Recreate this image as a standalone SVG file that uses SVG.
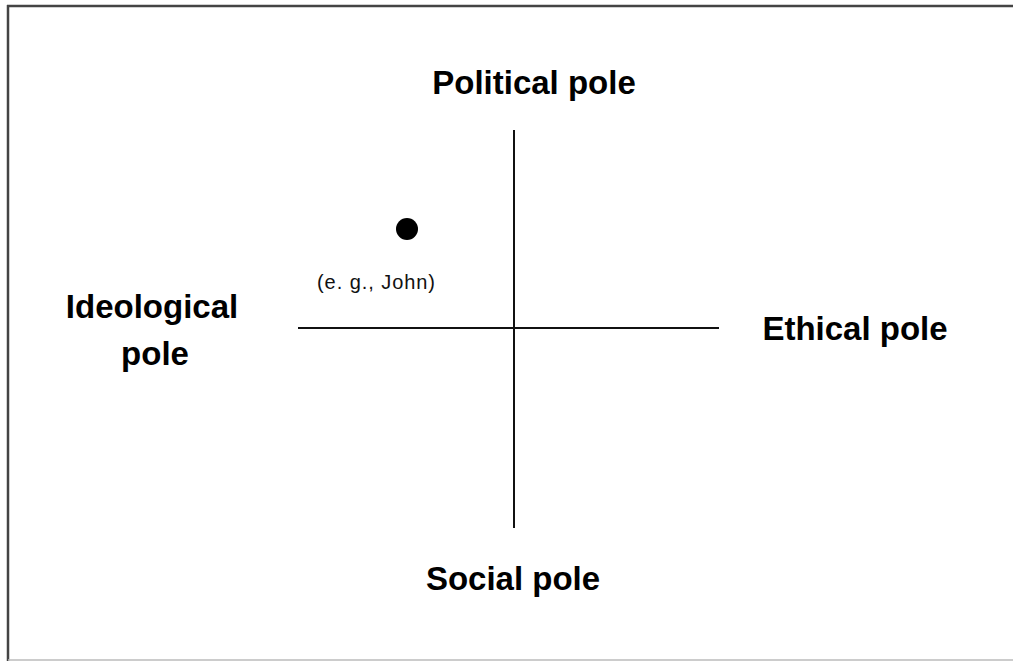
<svg xmlns="http://www.w3.org/2000/svg" width="1013" height="661" viewBox="0 0 1013 661">
<style>
.pole{font-family:"Liberation Sans",Arial,sans-serif;font-weight:bold;font-size:33px;fill:#000;text-anchor:middle}
.note{font-family:"Liberation Sans",Arial,sans-serif;font-size:20px;fill:#111}
.axis{stroke:#111;stroke-width:2;fill:none}
</style>
<rect width="1013" height="661" fill="#fff"/>
<g id="frame">
<line x1="7" y1="6" x2="1013" y2="6" stroke="#444" stroke-width="2.5"/>
<line x1="8" y1="5" x2="8" y2="661" stroke="#444" stroke-width="2.5"/>
<line x1="8" y1="660" x2="1013" y2="660" stroke="#bbb" stroke-width="1.5"/>
</g>
<g id="connectors">
<line class="axis" x1="514" y1="130" x2="514" y2="528"/>
<line class="axis" x1="298" y1="328" x2="719" y2="328"/>
</g>
<g id="political"><text class="pole" x="534" y="94">Political pole</text></g>
<g id="ethical"><text class="pole" x="855" y="340">Ethical pole</text></g>
<g id="social"><text class="pole" x="513" y="590">Social pole</text></g>
<g id="ideological"><text class="pole" x="152" y="318">Ideological</text><text class="pole" x="155" y="365">pole</text></g>
<g id="john"><circle cx="407" cy="229" r="11" fill="#000"/><text class="note" x="317" y="289" textLength="118" lengthAdjust="spacing">(e. g., John)</text></g>
</svg>
